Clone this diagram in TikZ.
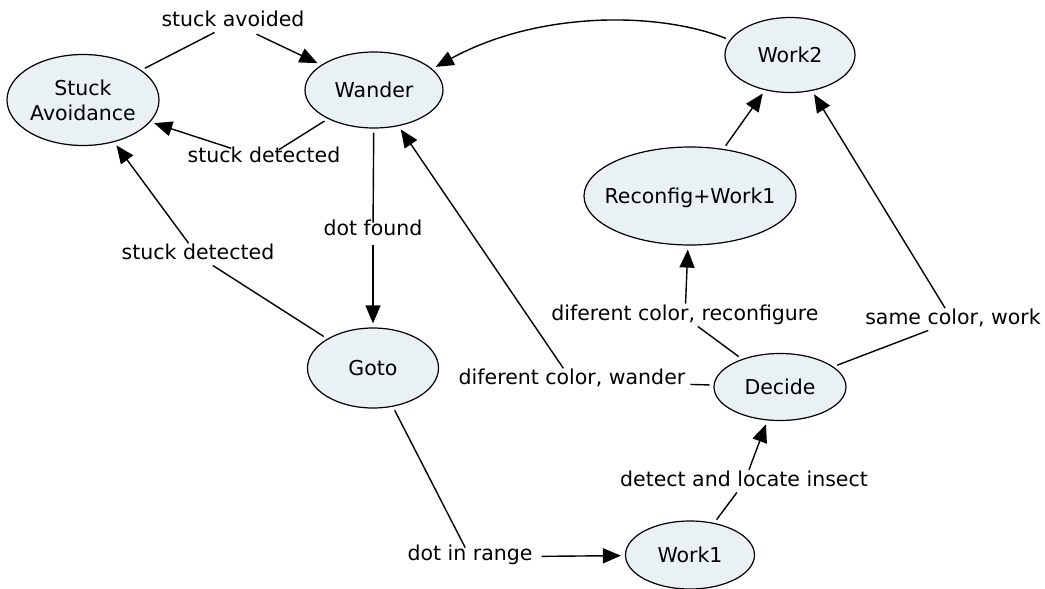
\documentclass[tikz,border=0pt]{standalone}
\usepackage{fontspec}
\setmainfont{DejaVu Sans}
\usetikzlibrary{shapes.geometric,arrows.meta}
\definecolor{nodefill}{RGB}{233,241,244}
\newcommand{\etxt}[1]{\makebox[0pt]{\raisebox{-2.5pt}[\height][\depth]{\begin{tabular}{@{}c@{}}#1\end{tabular}}}}
\tikzset{
  state/.style={ellipse,draw=black,line width=1.2pt,fill=nodefill,inner sep=0pt,
    font=\fontsize{20.5}{25}\selectfont},
  lab/.style={inner sep=5pt,text height=0.75em,text depth=0.1em,
    font=\fontsize{20.5}{25}\selectfont},
  conn/.style={line width=1.4pt,shorten <=4pt},
  arr/.style={line width=1.4pt,shorten <=4pt,shorten >=4pt,-{Triangle[length=18pt,width=15pt]}}
}
\begin{document}
\begin{tikzpicture}[x=1pt,y=-1pt]
\useasboundingbox (0,0) rectangle (1045,589);
% states
\node[state,minimum width=152pt,minimum height=91pt] (sa) at (83,100) {\etxt{Stuck\\Avoidance}};
\node[state,minimum width=138pt,minimum height=76pt] (wander) at (374,90) {\etxt{Wander}};
\node[state,minimum width=130pt,minimum height=75pt] (work2) at (790,55) {\etxt{Work2}};
\node[state,minimum width=212pt,minimum height=98pt] (rw1) at (690,196) {\etxt{Reconfig+Work1}};
\node[state,minimum width=131pt,minimum height=80pt] (goto) at (373,368) {\etxt{Goto}};
\node[state,minimum width=132pt,minimum height=67pt] (decide) at (780,387) {\etxt{Decide}};
\node[state,minimum width=129pt,minimum height=68pt] (work1) at (690,555) {\etxt{Work1}};
% labels
\node[lab] (lavoid) at (233,23) {stuck avoided};
\node[lab] (lsd1) at (264,159) {stuck detected};
\node[lab] (lsd2) at (198,256) {stuck detected};
\node[lab] (ldot) at (373,232) {dot found};
\node[lab] (lreconf) at (685,317) {diferent color, reconfigure};
\node[lab] (lsame) at (953,321) {same color, work};
\node[lab] (lwander) at (572,381) {diferent color, wander};
\node[lab] (ldetect) at (744,483) {detect and locate insect};
\node[lab] (lrange) at (470,557) {dot in range};
% connectors
\draw[conn] (sa) -- (lavoid);
\draw[arr] (lavoid) -- (wander);
\draw[conn] (wander) -- (lsd1);
\draw[arr] (lsd1) -- (sa);
\draw[conn] (wander) -- (ldot);
\draw[arr] (ldot) -- (goto);
\draw[conn] (goto) -- (lsd2);
\draw[arr] (lsd2) -- (sa);
\draw[conn] (goto) -- (lrange);
\draw[arr] (lrange) -- (work1);
\draw[conn] (work1) -- (ldetect);
\draw[arr] (ldetect) -- (decide);
\draw[conn] (decide) -- (lwander);
\draw[arr] (lwander) -- (wander);
\draw[conn] (decide) -- (lreconf);
\draw[arr] (lreconf) -- (rw1);
\draw[conn] (decide) -- (lsame);
\draw[arr] (lsame) -- (work2);
\draw[arr] (rw1) -- (work2);
\draw[arr] (work2.166) .. controls (660,12) and (540,10) .. (wander.20);
\end{tikzpicture}
\end{document}
